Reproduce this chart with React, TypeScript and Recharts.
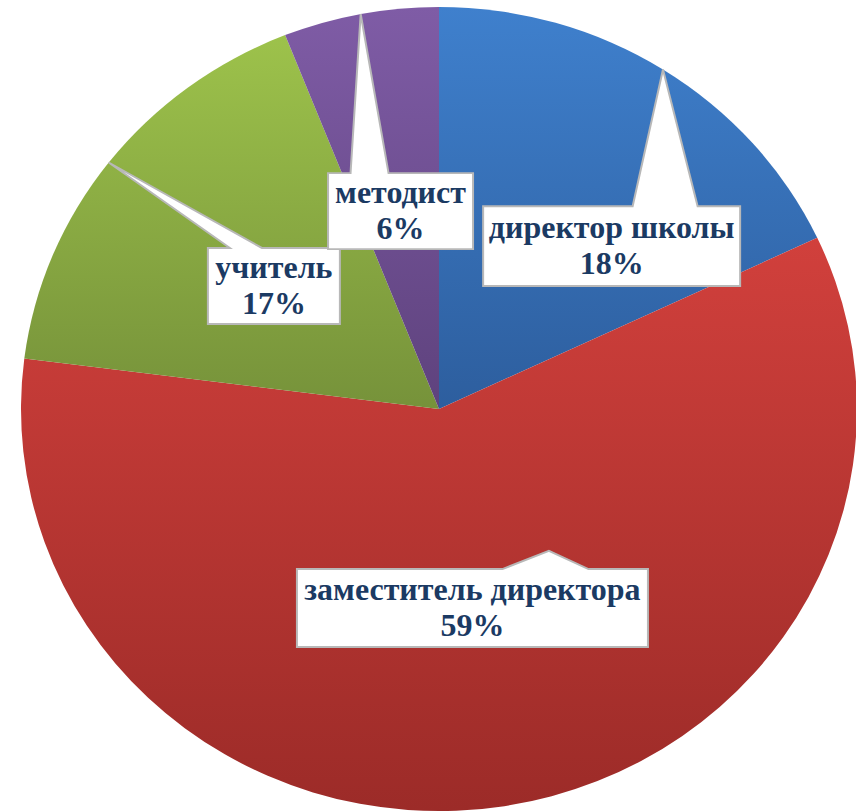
import { Cell, Pie, PieChart } from 'recharts';

const CATEGORIES = ['директор школы', 'заместитель директора', 'учитель', 'методист'];
const SHARES = [18, 59, 17, 6];
const GRADIENT_TOP = ['#3F80CD', '#D1403C', '#9DC24B', '#7F5CA6'];
const GRADIENT_BOTTOM = ['#2D5E9E', '#9C2B28', '#76923A', '#5E427D'];

// callout placement, relative to the pie centre in radius units (manually placed, like the Excel original)
const CALLOUTS = [
  { bx: 0.413, by: -0.405, w: 257, h: 83, baseL: 21, baseR: 86, tipAngle: null, tipR: 1 },
  { bx: 0.08, by: 0.495, w: 351, h: 81, baseL: 30, baseR: 116, tipAngle: 143.3, tipR: 0.44 },
  { bx: -0.395, by: -0.306, w: 132, h: 79, baseL: -44, baseR: -12, tipAngle: null, tipR: 1 },
  { bx: -0.092, by: -0.492, w: 145, h: 79, baseL: -50, baseR: -12, tipAngle: null, tipR: 1 },
];

const chartData = CATEGORIES.map((name, i) => ({ name, value: SHARES[i] }));

const SCALE_Y = 0.962;
const RAD = Math.PI / 180;

const labelText = {
  fontFamily: '"Liberation Serif", "Times New Roman", serif',
  fontWeight: 700,
  fontSize: 32,
  fill: '#1B3A63',
};

function Callout(props: any) {
  const { cx, cy, outerRadius, midAngle, percent, index, name } = props;
  const c = CALLOUTS[index];
  const boxX = cx + c.bx * outerRadius;
  const boxY = cy + c.by * outerRadius;
  const left = boxX - c.w / 2;
  const right = boxX + c.w / 2;
  const top = boxY - c.h / 2;
  const bottom = boxY + c.h / 2;
  // tip angle measured clockwise from 12 o'clock when given, otherwise slice mid angle
  let tx: number;
  let ty: number;
  if (c.tipAngle != null) {
    tx = cx + c.tipR * outerRadius * Math.sin(c.tipAngle * RAD);
    ty = cy - c.tipR * outerRadius * Math.cos(c.tipAngle * RAD);
  } else {
    tx = cx + c.tipR * outerRadius * Math.cos(-midAngle * RAD);
    ty = cy + c.tipR * outerRadius * Math.sin(-midAngle * RAD);
  }
  const d = [
    `M${left},${top}`,
    `L${boxX + c.baseL},${top}`,
    `L${tx},${ty}`,
    `L${boxX + c.baseR},${top}`,
    `L${right},${top}`,
    `L${right},${bottom}`,
    `L${left},${bottom}`,
    'Z',
  ].join(' ');
  return (
    <g>
      <path d={d} fill="#FFFFFF" stroke="#B8B8B8" strokeWidth={2} strokeLinejoin="miter" />
      <text x={boxX} y={boxY - 8} textAnchor="middle" style={labelText}>
        {name}
      </text>
      <text x={boxX} y={boxY + 29} textAnchor="middle" style={labelText}>
        {`${Math.round(percent * 100)}%`}
      </text>
    </g>
  );
}

export default function App() {
  return (
    <div style={{ position: 'absolute', left: 0, top: 0, width: 856, height: 812, overflow: 'hidden', background: '#fff' }}>
      <div
        style={{
          position: 'absolute',
          left: 0,
          top: -34,
          transform: `scaleY(${SCALE_Y})`,
          transformOrigin: '439px 443px',
        }}
      >
        <PieChart width={856} height={880} margin={{ top: 0, right: 0, bottom: 0, left: 0 }}>
          <defs>
            {GRADIENT_TOP.map((top, i) => (
              <linearGradient key={i} id={`slice${i}`} x1="0" y1="0" x2="0" y2="1">
                <stop offset="0%" stopColor={top} />
                <stop offset="100%" stopColor={GRADIENT_BOTTOM[i]} />
              </linearGradient>
            ))}
          </defs>
          <Pie
            data={chartData}
            dataKey="value"
            nameKey="name"
            cx={439}
            cy={443}
            outerRadius={418}
            startAngle={90}
            endAngle={-270}
            stroke="none"
            labelLine={false}
            label={Callout}
            isAnimationActive={false}
          >
            {chartData.map((_, i) => (
              <Cell key={i} fill={`url(#slice${i})`} />
            ))}
          </Pie>
        </PieChart>
      </div>
    </div>
  );
}
